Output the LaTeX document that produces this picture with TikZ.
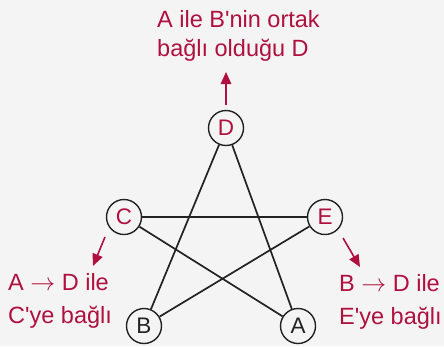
\documentclass[tikz,border=0pt]{standalone}
\usepackage{fontspec}
\setmainfont{Liberation Sans}
\usetikzlibrary{arrows.meta,positioning}
\definecolor{deepred}{HTML}{B0103E}
\definecolor{softgray}{HTML}{F4F4F4}
\definecolor{inkblack}{HTML}{222222}
\tikzset{
  vertex/.style={circle,draw=inkblack,line width=1.4pt,minimum size=35pt,
                 inner sep=0pt,font=\fontsize{22.5}{22.5}\selectfont},
  edge/.style={draw=inkblack,line width=1.7pt},
  note/.style={text=deepred,align=left,inner sep=0pt,anchor=north west},
  pointer/.style={-{Triangle[length=12pt,width=10.5pt]},draw=deepred,line width=1.6pt}
}

\begin{document}
\begin{tikzpicture}[x=1pt,y=-1pt,
  marked/.style={vertex,text=deepred},
  plain/.style={vertex,text=inkblack}
]
  \fill[softgray] (0,0) rectangle (444,346);
  \useasboundingbox (0,0) rectangle (444,346);

  \node[marked] (D) at (226,128) {D};
  \node[marked] (C) at (124,217) {C};
  \node[marked] (E) at (325,217) {E};
  \node[plain] (B) at (144,326) {B};
  \node[plain] (A) at (298,326) {A};

  \draw[edge] (D)--(B);
  \draw[edge] (D)--(A);
  \draw[edge] (C)--(E);
  \draw[edge] (C)--(A);
  \draw[edge] (E)--(B);

  \node[note,font=\fontsize{23.5}{29}\selectfont] (common) at (157,10)
    {A ile B\textquotesingle nin ortak\\bağlı olduğu D};
  \node[note,font=\fontsize{23.5}{33}\selectfont] (viaC) at (8,273)
    {A $\rightarrow$ D ile\\C\textquotesingle ye bağlı};
  \node[note,font=\fontsize{23.5}{33}\selectfont] (viaE) at (339,274)
    {B $\rightarrow$ D ile\\E\textquotesingle ye bağlı};

  \coordinate (upTip) at (226,72);
  \coordinate (leftTip) at (93,266);
  \coordinate (rightTip) at (360,267);
  \draw[pointer,shorten <=5pt] (D)--(upTip);
  \draw[pointer] ([shift={(-19,20)}]C.center)--(leftTip);
  \draw[pointer] ([shift={(18,21)}]E.center)--(rightTip);
\end{tikzpicture}
\end{document}
